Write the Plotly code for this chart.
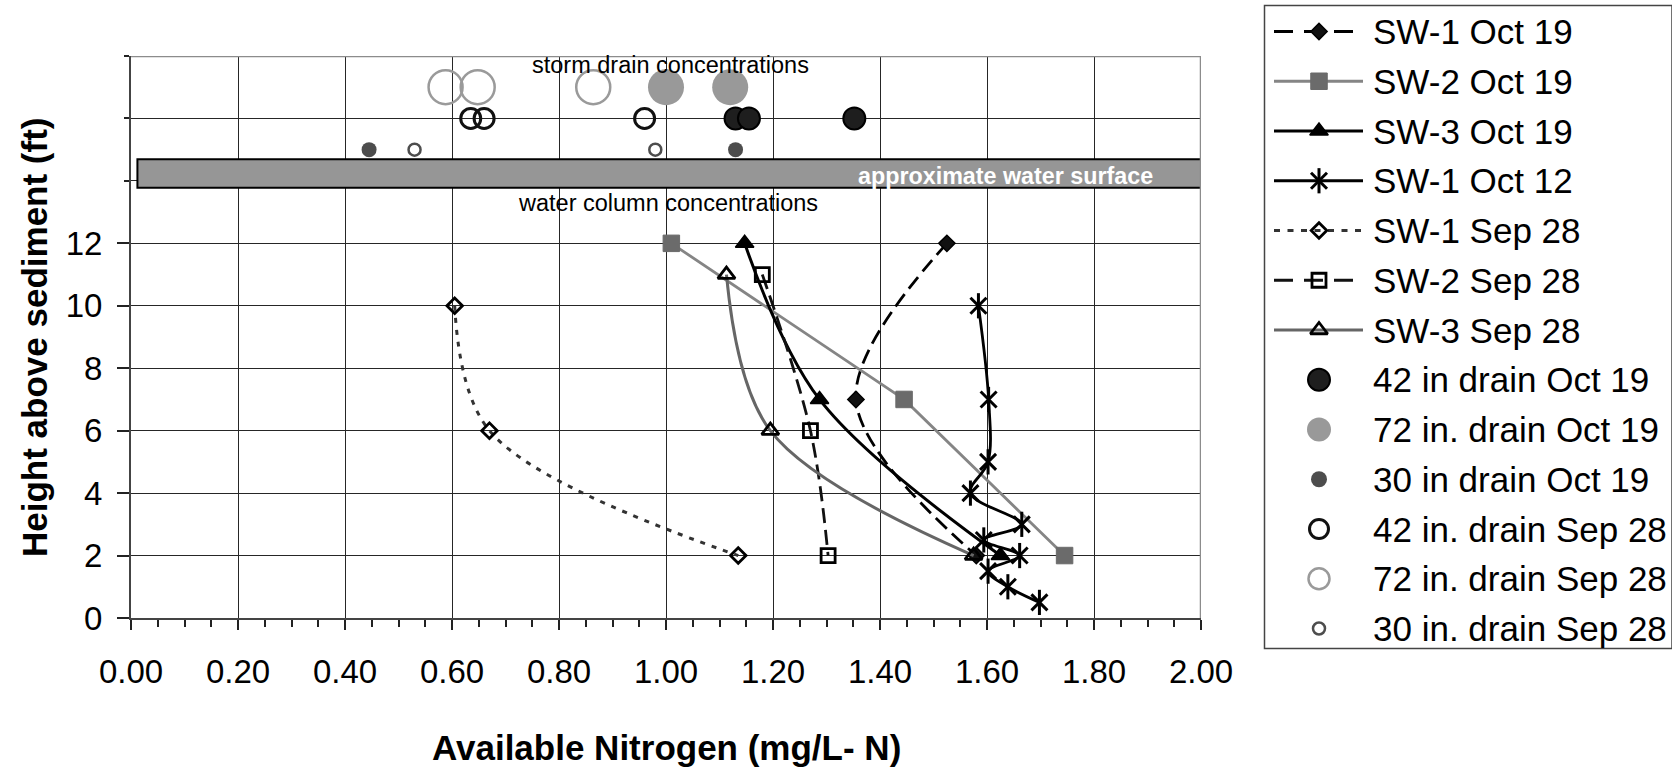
import plotly.graph_objects as go

FONT = "Liberation Sans, Arial, sans-serif"
W, H = 1672, 768
PL, PR, PT, PB = 131, 1201, 56, 618   # plot-area pixel box

# ---------------- data ----------------
height_sw1_oct19 = [12, 7, 2]
nitrogen_sw1_oct19 = [1.525, 1.355, 1.58]

height_sw2_oct19 = [12, 7, 2]
nitrogen_sw2_oct19 = [1.01, 1.445, 1.745]

height_sw3_oct19 = [12, 7, 2]
nitrogen_sw3_oct19 = [1.147, 1.287, 1.625]

height_sw1_oct12 = [10, 7, 5, 4, 3, 2.5, 2, 1.5, 1, 0.5]
nitrogen_sw1_oct12 = [1.584, 1.603, 1.602, 1.569, 1.665, 1.594, 1.661, 1.602, 1.639, 1.698]

height_sw1_sep28 = [10, 6, 2]
nitrogen_sw1_sep28 = [0.605, 0.67, 1.135]

height_sw2_sep28 = [11, 6, 2]
nitrogen_sw2_sep28 = [1.18, 1.27, 1.303]

height_sw3_sep28 = [11, 6, 2]
nitrogen_sw3_sep28 = [1.113, 1.195, 1.575]

# storm drain concentrations (plotted above the water surface)
drain42_oct19 = [1.13, 1.155, 1.352]
drain72_oct19 = [1.0, 1.12]
drain30_oct19 = [0.445, 1.13]
drain42_sep28 = [0.635, 0.66, 0.96]
drain72_sep28 = [0.588, 0.648, 0.864]
drain30_sep28 = [0.53, 0.98]
row_72, row_42, row_30 = 17, 16, 15

water_band = [13.78, 14.69]
water_band_x = [0.012, 2.0]

x_ticks = [0.0, 0.2, 0.4, 0.6, 0.8, 1.0, 1.2, 1.4, 1.6, 1.8, 2.0]
y_ticks = [0, 2, 4, 6, 8, 10, 12]
y_minor = [14, 16, 18]

legend_labels = ["SW-1 Oct 19", "SW-2 Oct 19", "SW-3 Oct 19", "SW-1 Oct 12",
                 "SW-1 Sep 28", "SW-2 Sep 28", "SW-3 Sep 28",
                 "42 in drain Oct 19", "72 in. drain Oct 19", "30 in drain Oct 19",
                 "42 in. drain Sep 28", "72 in. drain Sep 28", "30 in. drain Sep 28"]

# ---------------- styles ----------------
BLACK = "#000000"
GRID = "#262626"
styles = {
    "SW-1 Oct 19": dict(line=dict(color=BLACK, width=2.8, dash="15px,7px", shape="spline"),
                        marker=dict(symbol="diamond", size=12.5, color="#111", line=dict(color=BLACK, width=1.5))),
    "SW-2 Oct 19": dict(line=dict(color="#858585", width=2.8, shape="linear"),
                        marker=dict(symbol="square", size=16.5, color="#6b6b6b", line=dict(color="#6b6b6b", width=1))),
    "SW-3 Oct 19": dict(line=dict(color=BLACK, width=3, shape="spline"),
                        marker=dict(symbol="triangle-up", size=16, color=BLACK, line=dict(color=BLACK, width=1.5))),
    "SW-1 Oct 12": dict(line=dict(color=BLACK, width=2.8, shape="spline"),
                        marker=dict(symbol="x-thin-open", size=16, color=BLACK, line=dict(color=BLACK, width=3))),
    "SW-1 Sep 28": dict(line=dict(color="#333333", width=3, dash="5px,7px", shape="spline"),
                        marker=dict(symbol="diamond-open", size=12, color=BLACK, line=dict(color=BLACK, width=2.8))),
    "SW-2 Sep 28": dict(line=dict(color="#111111", width=2.8, dash="15px,7px", shape="spline"),
                        marker=dict(symbol="square-open", size=14, color=BLACK, line=dict(color=BLACK, width=2.8))),
    "SW-3 Sep 28": dict(line=dict(color="#666666", width=3, shape="spline"),
                        marker=dict(symbol="triangle-up-open", size=15, color=BLACK, line=dict(color=BLACK, width=2.8))),
}
star_bar = dict(symbol="line-ns-open", size=18, color=BLACK, line=dict(color=BLACK, width=3))
line_series = [
    ("SW-1 Oct 19", nitrogen_sw1_oct19, height_sw1_oct19),
    ("SW-2 Oct 19", nitrogen_sw2_oct19, height_sw2_oct19),
    ("SW-3 Oct 19", nitrogen_sw3_oct19, height_sw3_oct19),
    ("SW-1 Oct 12", nitrogen_sw1_oct12, height_sw1_oct12),
    ("SW-1 Sep 28", nitrogen_sw1_sep28, height_sw1_sep28),
    ("SW-2 Sep 28", nitrogen_sw2_sep28, height_sw2_sep28),
    ("SW-3 Sep 28", nitrogen_sw3_sep28, height_sw3_sep28),
]
circle_styles = {
    "42 in drain Oct 19": dict(size=22, color="#1e1e1e", line=dict(color=BLACK, width=2)),
    "72 in. drain Oct 19": dict(size=36, color="#999999", line=dict(color="#999999", width=0)),
    "30 in drain Oct 19": dict(size=15, color="#4d4d4d", line=dict(color="#4d4d4d", width=0)),
    "42 in. drain Sep 28": dict(size=20, color="rgba(0,0,0,0)", line=dict(color="#111111", width=3)),
    "72 in. drain Sep 28": dict(size=34, color="rgba(0,0,0,0)", line=dict(color="#9a9a9a", width=2.5)),
    "30 in. drain Sep 28": dict(size=12, color="rgba(0,0,0,0)", line=dict(color="#4d4d4d", width=2.5)),
}
legend_circle_size = {"42 in drain Oct 19": 22, "72 in. drain Oct 19": 24, "30 in drain Oct 19": 16,
                      "42 in. drain Sep 28": 19, "72 in. drain Sep 28": 21, "30 in. drain Sep 28": 12}
circle_series = [
    ("42 in drain Oct 19", drain42_oct19, row_42),
    ("72 in. drain Oct 19", drain72_oct19, row_72),
    ("30 in drain Oct 19", drain30_oct19, row_30),
    ("42 in. drain Sep 28", drain42_sep28, row_42),
    ("72 in. drain Sep 28", drain72_sep28, row_72),
    ("30 in. drain Sep 28", drain30_sep28, row_30),
]

fig = go.Figure()

# ---- water-column profiles ----
for name, xs, ys in line_series:
    st = styles[name]
    fig.add_trace(go.Scatter(x=xs, y=ys, mode="lines+markers", name=name, line=st["line"],
                             marker=st["marker"], showlegend=False, xaxis="x", yaxis="y"))
    if name == "SW-1 Oct 12":   # vertical bar of the 6-armed star marker
        fig.add_trace(go.Scatter(x=xs, y=ys, mode="markers", showlegend=False, marker=star_bar,
                                 xaxis="x", yaxis="y"))

# ---- storm drain points ----
for name, xs, row in circle_series:
    st = circle_styles[name]
    fig.add_trace(go.Scatter(x=xs, y=[row] * len(xs), mode="markers", name=name, showlegend=False,
                             marker=dict(symbol="circle", **st), xaxis="x", yaxis="y"))

# ---- custom legend (pixel coordinates on x2/y2) ----
LX0, LXM, LX1, LTX = 1274, 1319, 1363, 1371
row0, drow = 31.5, 49.75
legend_dash = {"SW-1 Oct 19": "19px,11px", "SW-2 Sep 28": "19px,11px", "SW-1 Sep 28": "6px,7.5px"}
annotations = []
for i, name in enumerate(legend_labels):
    ry = row0 + i * drow
    if name in styles:
        st = styles[name]
        ln = dict(st["line"])
        ln.pop("shape", None)
        if name in legend_dash:
            ln["dash"] = legend_dash[name]
        fig.add_trace(go.Scatter(x=[LX0, LX1], y=[ry, ry], mode="lines", line=ln, showlegend=False,
                                 hoverinfo="skip", xaxis="x2", yaxis="y2"))
        fig.add_trace(go.Scatter(x=[LXM], y=[ry], mode="markers", marker=dict(st["marker"]), showlegend=False,
                                 hoverinfo="skip", xaxis="x2", yaxis="y2"))
        if name == "SW-1 Oct 12":
            fig.add_trace(go.Scatter(x=[LXM], y=[ry], mode="markers", showlegend=False, hoverinfo="skip",
                                     marker=star_bar, xaxis="x2", yaxis="y2"))
    else:
        st = dict(circle_styles[name])
        st["size"] = legend_circle_size[name]
        fig.add_trace(go.Scatter(x=[LXM], y=[ry], mode="markers", marker=dict(symbol="circle", **st),
                                 showlegend=False, hoverinfo="skip", xaxis="x2", yaxis="y2"))
    annotations.append(dict(x=LTX, y=ry, xref="x2", yref="y2", text=name, showarrow=False,
                            xanchor="left", yanchor="middle", font=dict(family=FONT, size=35, color=BLACK)))

# ---- text annotations in the plot ----
annotations += [
    dict(x=1.009, y=17.71, xref="x", yref="y", text="storm drain concentrations", showarrow=False,
         xanchor="center", yanchor="middle", font=dict(family=FONT, size=23.5, color=BLACK)),
    dict(x=1.004, y=13.29, xref="x", yref="y", text="water column concentrations", showarrow=False,
         xanchor="center", yanchor="middle", font=dict(family=FONT, size=23.5, color=BLACK)),
    dict(x=1.635, y=14.15, xref="x", yref="y", text="<b>approximate water surface</b>", showarrow=False,
         xanchor="center", yanchor="middle", font=dict(family=FONT, size=23.3, color="white")),
    dict(x=666 / W, y=1 - 747 / H, xref="paper", yref="paper", text="<b>Available Nitrogen (mg/L- N)</b>",
         showarrow=False, xanchor="center", yanchor="middle", font=dict(family=FONT, size=35, color=BLACK)),
    dict(x=34 / W, y=1 - 338 / H, xref="paper", yref="paper", text="<b>Height above sediment (ft)</b>",
         showarrow=False, textangle=-90, xanchor="center", yanchor="middle",
         font=dict(family=FONT, size=35, color=BLACK)),
]

shapes = [
    # approximate water surface band
    dict(type="rect", xref="x", yref="y", x0=water_band_x[0], x1=water_band_x[1],
         y0=water_band[0], y1=water_band[1], fillcolor="#969696", line=dict(color=BLACK, width=2),
         layer="above"),
    # plot-area border (top / right)
    dict(type="line", xref="x", yref="y", x0=0, x1=2, y0=18, y1=18, line=dict(color="#8c8c8c", width=2.5)),
    dict(type="line", xref="x", yref="y", x0=2, x1=2, y0=0, y1=18, line=dict(color="#8c8c8c", width=2.5)),
    # legend box
    dict(type="rect", xref="x2", yref="y2", x0=1264.5, x1=1672, y0=5.5, y1=648.5,
         line=dict(color="#444444", width=1.5), fillcolor="rgba(0,0,0,0)"),
]

fig.update_layout(
    width=W, height=H, margin=dict(l=0, r=0, t=0, b=0, autoexpand=False),
    paper_bgcolor="white", plot_bgcolor="white",
    font=dict(family=FONT, size=33, color=BLACK),
    showlegend=False,
    xaxis=dict(domain=[PL / W, PR / W], range=[0, 2], tickmode="array", tickvals=x_ticks,
               ticktext=[f"{v:.2f}" for v in x_ticks], ticks="outside", ticklen=10, tickwidth=1.5,
               tickcolor="#222", showgrid=True, gridcolor=GRID, gridwidth=1.2, zeroline=False,
               showline=True, linecolor="#444", linewidth=2, automargin=False,
               minor=dict(dtick=0.05, tick0=0, ticks="outside", ticklen=7, tickwidth=1.5, tickcolor="#222",
                          showgrid=False),
               tickfont=dict(family=FONT, size=33, color=BLACK), ticklabelstandoff=13,
               fixedrange=True, anchor="y"),
    yaxis=dict(domain=[(H - PB) / H, (H - PT) / H], range=[0, 18], tickmode="array", tickvals=y_ticks,
               ticktext=[str(v) for v in y_ticks], ticks="outside", ticklen=12, tickwidth=1.5,
               tickcolor="#222", showgrid=True, gridcolor=GRID, gridwidth=1.2, zeroline=False,
               showline=True, linecolor="#444", linewidth=2, automargin=False,
               minor=dict(tickmode="array", tickvals=y_minor, ticks="outside", ticklen=5, tickwidth=1.5,
                          tickcolor="#222", showgrid=True, gridcolor=GRID, gridwidth=1.2),
               tickfont=dict(family=FONT, size=33, color=BLACK), ticklabelstandoff=8,
               fixedrange=True, anchor="x"),
    xaxis2=dict(domain=[1262 / W, 1.0], range=[1262, 1672], visible=False, fixedrange=True, anchor="y2",
                automargin=False),
    yaxis2=dict(domain=[0, 1], range=[768, 0], visible=False, fixedrange=True, anchor="x2",
                automargin=False),
    shapes=shapes, annotations=annotations,
)

fig.write_html("out.html")
